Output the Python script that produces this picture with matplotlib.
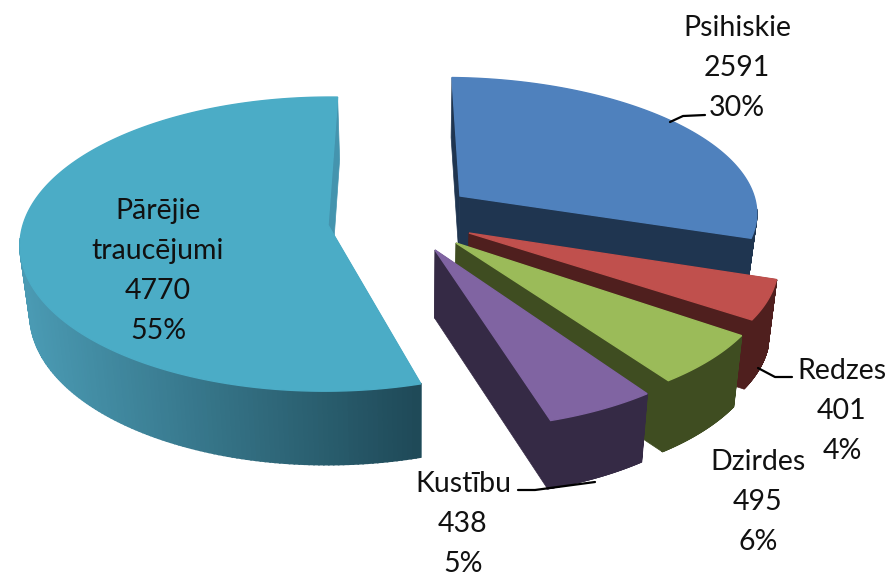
import numpy as np
import matplotlib
matplotlib.use('Agg')
import matplotlib.pyplot as plt
from matplotlib.colors import to_rgb

# exploded 3D pie, drawn by hand because matplotlib has no perspective pie

labels = ['Psihiskie', 'Redzes', 'Dzirdes', 'Kustību', 'Pārējie\ntraucējumi']
values = [2591, 401, 495, 438, 4770]
percents = ['30%', '4%', '6%', '5%', '55%']

top_colors = ['#4F81BD', '#C0504D', '#9BBB59', '#8064A2', '#4BACC6']
side_colors = ['#1F3550', '#4F1F1E', '#3F4D21', '#352A45', '#4494AE']

# cx, cy, rx, ry, perspective, skew, depth, depth growth
geometry = [
    (460, 196, 294, 128, 0.08, 0.128, 60, 0.0),
    (469, 233, 302, 138, 0.14, 0.172, 69, 0.0),
    (456, 243, 310, 147, 0.14, 0.113, 71, 0.0),
    (435, 250, 313, 153.5, 0.14, 0.094, 68, 0.0),
    (328, 225, 305, 144.6, 0.13, -0.02, 68, 0.08),
]

label_pos = [(737, 68), (842, 411), (758, 502), (463, 524), (158, 271)]
leaders = [
    ([670, 683, 705], [122, 116, 115]),
    ([758, 775, 792], [368, 377, 377]),
    ([518, 535, 595], [490, 490, 482]),
]

START_ANGLE = 1.5
VANISH_X = 418
SHRINK = 0.975


def top_ring(t, geo):
    cx, cy, rx, ry, p, skew, depth, grow = geo
    a, b = np.sin(t), -np.cos(t)
    s = 1 / (1 - p * b)
    dy = ry * b * s
    return cx + rx * a * s + skew * dy, cy + dy


def lower(x, y, t, geo):
    depth, grow = geo[6], geo[7]
    b = -np.cos(t)
    return VANISH_X + (x - VANISH_X) * SHRINK, y + depth * (1 + grow * b)


def mix(c1, c2, f):
    c1, c2 = np.array(to_rgb(c1)), np.array(to_rgb(c2))
    return tuple(c1 + (c2 - c1) * f)


def draw_slice(ax, t0, t1, geo, top, side, gradient=None):
    cx, cy = geo[0], geo[1]
    ts = np.linspace(t0, t1, 240)
    x, y = top_ring(ts, geo)
    xb, yb = lower(x, y, ts, geo)
    apex_b = lower(np.array(cx), np.array(cy), np.pi / 2, geo)

    # the two straight cut faces
    for i in (0, -1):
        ax.fill([cx, x[i], xb[i], apex_b[0]], [cy, y[i], yb[i], apex_b[1]],
                color=side, lw=0.5)

    # outer wall, only the part facing us
    for i in range(len(ts) - 1):
        if np.cos(ts[i]) > -0.1:
            continue
        c = side
        if gradient is not None:
            c = mix(gradient[0], gradient[1], np.clip((VANISH_X - x[i]) / (VANISH_X - 25), 0, 1))
        ax.fill([x[i], x[i + 1], xb[i + 1], xb[i]], [y[i], y[i + 1], yb[i + 1], yb[i]],
                color=c, lw=1.2)

    ax.fill(np.r_[cx, x], np.r_[cy, y], color=top, lw=1.0)


fig = plt.figure(figsize=(8.89, 5.76), dpi=100)
ax = fig.add_axes([0, 0, 1, 1])
ax.set_xlim(0, 889)
ax.set_ylim(576, 0)
ax.axis('off')

edges = np.radians(START_ANGLE + np.r_[0, np.cumsum(values)] / np.sum(values) * 360)

# back to front
for i in [0, 4, 1, 2, 3]:
    gradient = ('#1F4A58', '#4A9AB3') if i == 4 else None
    draw_slice(ax, edges[i], edges[i + 1], geometry[i], top_colors[i], side_colors[i], gradient)

for xs, ys in leaders:
    ax.plot(xs, ys, color='black', lw=1.6, solid_capstyle='round')

for name, val, pct, (x, y) in zip(labels, values, percents, label_pos):
    ax.text(x, y, f'{name}\n{val}\n{pct}', ha='center', va='center', family='Lato',
            fontsize=20.5, color='#111111', linespacing=1.66)

fig.savefig('out.png', dpi=100)
